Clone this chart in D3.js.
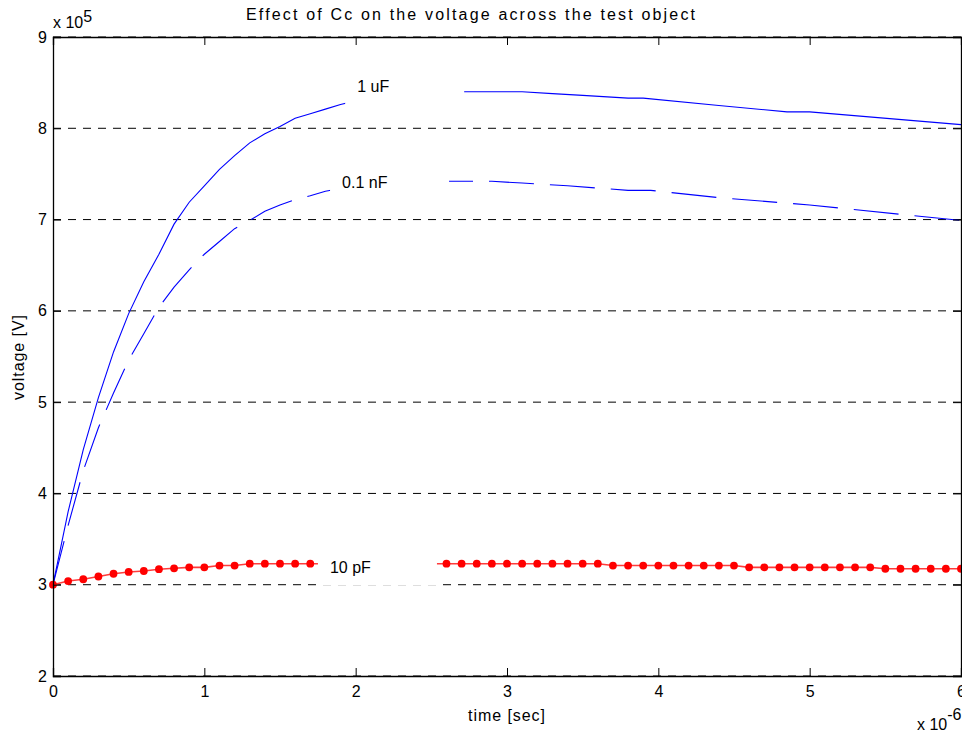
<!DOCTYPE html>
<html>
<head>
<meta charset="utf-8">
<script src="https://cdn.jsdelivr.net/npm/d3@7"></script>
<style>
  html, body { margin: 0; padding: 0; background: #fff; }
  svg { display: block; font-family: "Liberation Sans", Arial, Helvetica, sans-serif; }
</style>
</head>
<body>
<svg id="chart" width="962" height="736"></svg>
<script>
// Time axis in microseconds, voltage in units of 1e5 V
const xTicks = [0, 1, 2, 3, 4, 5, 6];
const yTicks = [2, 3, 4, 5, 6, 7, 8, 9];

// Cc = 1 uF (solid blue)
const tUF = [0, 0.1, 0.2, 0.3, 0.4, 0.5, 0.6, 0.7, 0.8, 0.9, 1.0, 1.1, 1.2, 1.3, 1.4, 1.5, 1.6, 1.7, 1.8, 1.9,
             2.0, 2.1, 2.2, 2.3, 2.4, 2.5, 2.7, 3.1, 3.3, 3.5, 3.8, 3.9, 4.4, 4.85, 5.0, 6.0];
const vUF = [3.00, 3.80, 4.48, 5.05, 5.55, 5.97, 6.32, 6.62, 6.95, 7.19, 7.37, 7.55, 7.70, 7.84, 7.94, 8.02, 8.11, 8.16, 8.21, 8.26,
             8.30, 8.33, 8.35, 8.37, 8.38, 8.39, 8.40, 8.40, 8.38, 8.36, 8.33, 8.33, 8.25, 8.18, 8.18, 8.04];

// Cc = 0.1 nF (dashed blue)
const tNF = [0, 0.1, 0.2, 0.3, 0.4, 0.5, 0.6, 0.7, 0.8, 0.9, 1.0, 1.1, 1.2, 1.3, 1.4, 1.5, 1.6, 1.7, 1.8, 1.9,
             2.0, 2.1, 2.2, 2.3, 2.4, 2.5, 2.6, 2.9, 3.1, 3.4, 3.8, 3.95, 4.4, 4.85, 5.0, 6.0];
const vNF = [3.00, 3.65, 4.25, 4.72, 5.10, 5.46, 5.75, 6.04, 6.26, 6.45, 6.62, 6.76, 6.90, 6.99, 7.09, 7.16, 7.22, 7.26, 7.31, 7.34,
             7.36, 7.38, 7.39, 7.40, 7.41, 7.42, 7.42, 7.42, 7.40, 7.37, 7.32, 7.32, 7.24, 7.18, 7.16, 6.99];

// Cc = 10 pF (red with dot markers), sampled every 0.1 us
const tPF = d3.range(61).map(i => +(i * 0.1).toFixed(1));
const vPF = [3.00, 3.04, 3.06, 3.09, 3.12, 3.14, 3.15, 3.17, 3.18, 3.19,
             3.19, 3.21, 3.21, 3.23, 3.23, 3.23, 3.23, 3.23, 3.23, 3.23,
             3.23, 3.23, 3.23, 3.23, 3.23, 3.23, 3.23, 3.23, 3.23, 3.23,
             3.23, 3.23, 3.23, 3.23, 3.23, 3.23, 3.23, 3.21, 3.21, 3.21,
             3.21, 3.21, 3.21, 3.21, 3.21, 3.21, 3.19, 3.19, 3.19, 3.19,
             3.19, 3.19, 3.19, 3.19, 3.19, 3.175, 3.175, 3.175, 3.175, 3.175, 3.175];

// Curve labels: [text, t, v]
const labels = [["1 uF", 2.01, 8.46], ["0.1 nF", 1.91, 7.41], ["10 pF", 1.83, 3.19]];

const svg = d3.select("#chart");
const m = { left: 53, right: 961, top: 37, bottom: 676 };
const x = d3.scaleLinear().domain([0, 6]).range([m.left, m.right]);
const y = d3.scaleLinear().domain([2, 9]).range([m.bottom, m.top]);
const FS = 16;

// horizontal dashed grid
svg.append("g").selectAll("line").data(yTicks).join("line")
  .attr("x1", m.left).attr("x2", m.right)
  .attr("y1", d => y(d)).attr("y2", d => y(d))
  .attr("stroke", "#000").attr("stroke-width", 1)
  .attr("stroke-dasharray", "8,7");

const line = d3.line().x(d => x(d[0])).y(d => y(d[1]));
const ptsUF = tUF.map((t, i) => [t, vUF[i]]);
const ptsNF = tNF.map((t, i) => [t, vNF[i]]);
const ptsPF = tPF.map((t, i) => [t, vPF[i]]);

svg.append("path").datum(ptsUF).attr("d", line)
  .attr("fill", "none").attr("stroke", "#0000ff").attr("stroke-width", 1.1);
svg.append("path").datum(ptsNF).attr("d", line)
  .attr("fill", "none").attr("stroke", "#0000ff").attr("stroke-width", 1.1)
  .attr("stroke-dasharray", "45,16");
svg.append("path").datum(ptsPF).attr("d", line)
  .attr("fill", "none").attr("stroke", "#ff3b3b").attr("stroke-width", 1.6);
svg.append("g").selectAll("circle").data(ptsPF).join("circle")
  .attr("cx", d => x(d[0])).attr("cy", d => y(d[1])).attr("r", 3.9)
  .attr("fill", "#ff0000");

// labels with white background boxes
const lg = svg.append("g").selectAll("g").data(labels).join("g")
  .attr("transform", d => `translate(${x(d[1])},${y(d[2])})`);
lg.append("rect").attr("x", -12).attr("y", -17).attr("width", 119).attr("height", 35).attr("fill", "#fff");
lg.append("text").text(d => d[0]).attr("font-size", FS).attr("dy", "0.35em").attr("fill", "#000");

// axes with inward ticks
const fmt = d3.format("d");
const gx = svg.append("g").attr("transform", `translate(0,${m.bottom})`)
  .call(d3.axisBottom(x).tickValues(xTicks).tickFormat(fmt).tickSize(-8).tickPadding(10));
const gxt = svg.append("g").attr("transform", `translate(0,${m.top})`)
  .call(d3.axisTop(x).tickValues(xTicks).tickFormat("").tickSize(-8));
const gy = svg.append("g").attr("transform", `translate(${m.left},0)`)
  .call(d3.axisLeft(y).tickValues(yTicks).tickFormat(fmt).tickSize(-8).tickPadding(6));
const gyr = svg.append("g").attr("transform", `translate(${m.right},0)`)
  .call(d3.axisRight(y).tickValues(yTicks).tickFormat("").tickSize(-8));
[gx, gxt, gy, gyr].forEach(g => {
  g.select(".domain").attr("stroke", "#000").attr("stroke-width", 1.3);
  g.selectAll(".tick line").attr("stroke", "#000");
  g.selectAll("text").attr("font-size", FS).attr("fill", "#000")
    .attr("font-family", "Liberation Sans, Arial, sans-serif");
});

// exponent markers
const e1 = svg.append("text").attr("x", 53).attr("y", 28).attr("font-size", FS);
e1.append("tspan").text("x 10");
e1.append("tspan").attr("dy", -6).text("5");
const e2 = svg.append("text").attr("x", 917).attr("y", 730).attr("font-size", FS);
e2.append("tspan").text("x 10");
e2.append("tspan").attr("dy", -10).text("-6");

// title and axis labels
svg.append("text").attr("x", 246).attr("y", 20)
  .attr("font-size", 16).attr("textLength", 449).attr("lengthAdjust", "spacing")
  .text("Effect of Cc on the voltage across the test object");
svg.append("text").attr("x", 468).attr("y", 721)
  .attr("font-size", FS).attr("textLength", 77).attr("lengthAdjust", "spacing")
  .text("time [sec]");
svg.append("text").attr("transform", `translate(24,400) rotate(-90)`)
  .attr("font-size", FS).attr("textLength", 85).attr("lengthAdjust", "spacing")
  .text("voltage [V]");
</script>
</body>
</html>
